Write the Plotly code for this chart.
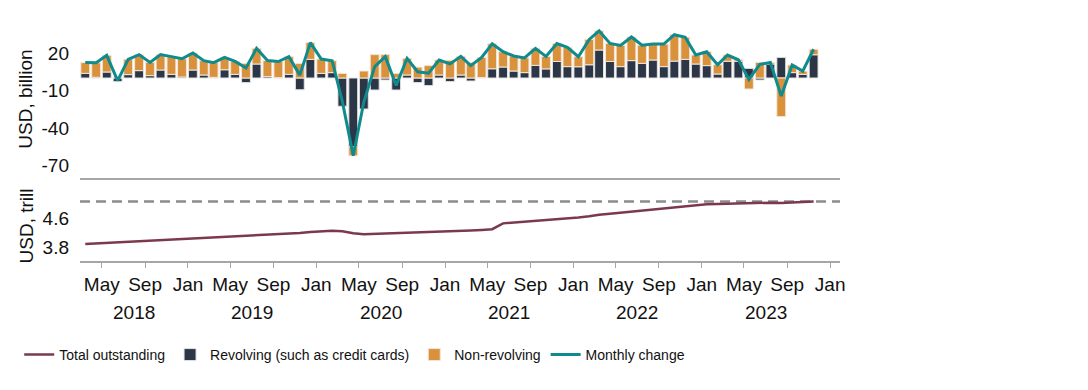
import pandas as pd
import plotly.graph_objects as go
from plotly.subplots import make_subplots

# ---------------- data ----------------
months = [str(p) for p in pd.period_range("2018-03", "2023-11", freq="M")]

revolving = [3.7, 0.6, 4.8, -2.9, 2.7, 5.9, 1.9, 6.4, 2.9, 0.8,
             6.4, 2.4, 0.5, 6.6, 2.9, -3.7, 11.2, 1.1, 0.3, 2.9,
             -9.4, 14.9, 3.7, 4.3, -22.6, -55.0, -24.8, -9.6, -1.6, -9.6,
             2.4, -3.7, -6.1, 2.4, -2.9, 2.4, -2.4, 0.4, 7.4, 8.8,
             5.6, 4.3, 10.1, 7.3, 13.2, 9.1, 9.0, 10.6, 22.4, 13.2,
             9.1, 13.9, 11.7, 14.4, 9.1, 13.5, 14.9, 11.2, 9.9, 3.2,
             13.4, 13.4, 7.7, -1.6, 11.2, 16.5, 4.3, 2.9, 18.6]

non_revolving = [8.6, 11.6, 13.3, 0.8, 12.2, 12.8, 10.6, 12.3, 14.2, 14.6,
                 13.6, 11.5, 11.8, 9.9, 10.4, 11.7, 12.5, 12.8, 12.9, 14.1,
                 11.7, 13.4, 11.5, 9.5, 3.7, -7.2, 5.6, 18.7, 18.7, 3.7,
                 13.3, 8.7, 9.9, 12.0, 14.2, 14.9, 12.3, 16.1, 20.0, 12.2,
                 12.0, 11.8, 13.6, 9.9, 14.3, 15.4, 8.0, 20.3, 15.3, 14.5,
                 17.0, 18.9, 14.5, 12.7, 18.0, 21.1, 17.6, 7.2, 11.1, 7.4,
                 5.0, 1.2, -8.8, 12.5, 1.2, -30.9, 6.1, 2.6, 4.4]

monthly_change = [12.3, 12.2, 18.1, -2.1, 14.9, 18.7, 12.5, 18.7, 17.1, 15.4,
                  20.0, 13.9, 12.3, 16.5, 13.3, 8.0, 23.7, 13.9, 13.2, 17.0,
                  2.3, 28.3, 15.2, 13.8, -18.9, -62.2, -19.2, 9.1, 17.1, -5.9,
                  15.7, 5.0, 3.8, 14.4, 11.3, 17.3, 9.9, 16.5, 27.4, 21.0,
                  17.6, 16.1, 23.7, 17.2, 27.5, 24.5, 17.0, 30.9, 37.7, 27.7,
                  26.1, 32.8, 26.2, 27.1, 27.1, 34.6, 32.5, 18.4, 21.0, 10.6,
                  18.4, 14.6, -1.1, 10.9, 12.4, -14.4, 10.4, 5.5, 23.0]

total_outstanding = [3.890, 3.905, 3.920, 3.935, 3.950, 3.965, 3.980, 3.995, 4.010, 4.025,
                     4.045, 4.060, 4.070, 4.085, 4.100, 4.115, 4.135, 4.150, 4.165, 4.180,
                     4.195, 4.220, 4.240, 4.255, 4.245, 4.190, 4.160, 4.170, 4.180, 4.185,
                     4.195, 4.200, 4.210, 4.220, 4.235, 4.250, 4.265, 4.280, 4.300, 4.460,
                     4.480, 4.510, 4.535, 4.555, 4.580, 4.600, 4.620, 4.655, 4.700, 4.725,
                     4.755, 4.780, 4.805, 4.830, 4.860, 4.895, 4.935, 4.960, 4.985, 4.995,
                     5.005, 5.015, 5.025, 5.035, 5.030, 5.020, 5.040, 5.045, 5.065]

reference_level = 5.06

top_tick_vals = [20, -10, -40, -70]
top_tick_text = ["20", "-10", "-40", "-70"]
bottom_tick_vals = [3.8, 4.6]
bottom_tick_text = ["3.8", "4.6"]
years = [2018, 2019, 2020, 2021, 2022, 2023]

# ---------------- styling ----------------
NAVY = "#2c3647"
ORANGE = "#d9913b"
TEAL = "#0f8b8d"
MAROON = "#7b3a4c"
DASH_GREY = "#8c8c8c"
AXIS_GREY = "#a6a6a6"
FONT = "Liberation Sans, Arial, sans-serif"
TXT = "#111111"
AX_SIZE = 19

# bars/points are placed mid-month
x_pos = [(pd.Period(m, freq="M").start_time + pd.Timedelta(days=14)).strftime("%Y-%m-%d")
         for m in months]
x_range = ["2018-02-28", "2024-01-29"]

fig = make_subplots(rows=2, cols=1, shared_xaxes=True, vertical_spacing=0.05)

fig.add_trace(go.Scatter(x=x_pos, y=total_outstanding, name="Total outstanding",
                         mode="lines", line=dict(color=MAROON, width=2.5)),
              row=2, col=1)
fig.add_trace(go.Bar(x=x_pos, y=revolving, name="Revolving (such as credit cards)",
                     marker=dict(color=NAVY, line=dict(color="#e4e4e4", width=1))),
              row=1, col=1)
fig.add_trace(go.Bar(x=x_pos, y=non_revolving, name="Non-revolving",
                     marker=dict(color=ORANGE, line=dict(color="#f2e6d8", width=1))),
              row=1, col=1)
fig.add_trace(go.Scatter(x=x_pos, y=monthly_change, name="Monthly change",
                         mode="lines", line=dict(color=TEAL, width=3)),
              row=1, col=1)

# reference dashed line in lower panel
fig.add_shape(type="line", xref="x2 domain", yref="y2", x0=0, x1=1,
              y0=reference_level, y1=reference_level,
              line=dict(color=DASH_GREY, width=2.5, dash="10px,6px"), layer="below")

# year labels centred on the visible part of each year
start_vis = pd.Timestamp("2018-03-01")
for yr in years:
    a = max(pd.Timestamp(f"{yr}-01-01"), start_vis)
    b = pd.Timestamp(f"{yr + 1}-01-01")
    mid = a + (b - a) / 2
    fig.add_annotation(x=mid.strftime("%Y-%m-%d"), xref="x2", y=-0.215, yref="paper",
                       text=str(yr), showarrow=False, yanchor="middle",
                       font=dict(family=FONT, size=AX_SIZE, color=TXT))

fig.update_layout(
    width=1088, height=390,
    margin=dict(l=72, r=256, t=12, b=137, autoexpand=False),
    plot_bgcolor="white", paper_bgcolor="white",
    barmode="relative", bargap=0.1,
    font=dict(family=FONT, size=AX_SIZE, color=TXT),
    showlegend=True,
    legend=dict(orientation="h", x=-0.08, xanchor="left", y=-0.39, yanchor="middle",
                font=dict(family=FONT, size=14, color=TXT),
                itemwidth=30, tracegroupgap=0, bgcolor="rgba(0,0,0,0)"),
)

fig.update_xaxes(type="date", range=x_range, showgrid=False, zeroline=False,
                 showline=True, linecolor=AXIS_GREY, linewidth=1.5, automargin=False)
fig.update_xaxes(row=1, col=1, showticklabels=False, ticks="")
fig.update_xaxes(row=2, col=1, tick0="2018-01-01", dtick="M4", tickformat="%b",
                 tickangle=0, ticks="outside", ticklen=5, tickcolor=AXIS_GREY, tickwidth=1,
                 ticklabelstandoff=0,
                 tickfont=dict(family=FONT, size=AX_SIZE, color=TXT))

fig.update_yaxes(row=1, col=1, domain=[0.3444, 1.0], range=[-80, 46.4],
                 tickvals=top_tick_vals, ticktext=top_tick_text, automargin=False,
                 showgrid=False, zeroline=False, showline=False, ticks="",
                 ticklabelstandoff=10,
                 title=dict(text="USD, billion", standoff=3,
                            font=dict(family=FONT, size=AX_SIZE, color=TXT)))
fig.update_yaxes(row=2, col=1, domain=[0.0, 0.2905], range=[3.422, 5.353],
                 tickvals=bottom_tick_vals, ticktext=bottom_tick_text, automargin=False,
                 showgrid=False, zeroline=False, showline=False, ticks="",
                 ticklabelstandoff=10,
                 title=dict(text="USD, trill", standoff=3,
                            font=dict(family=FONT, size=AX_SIZE, color=TXT)))

fig.write_html("out.html")
